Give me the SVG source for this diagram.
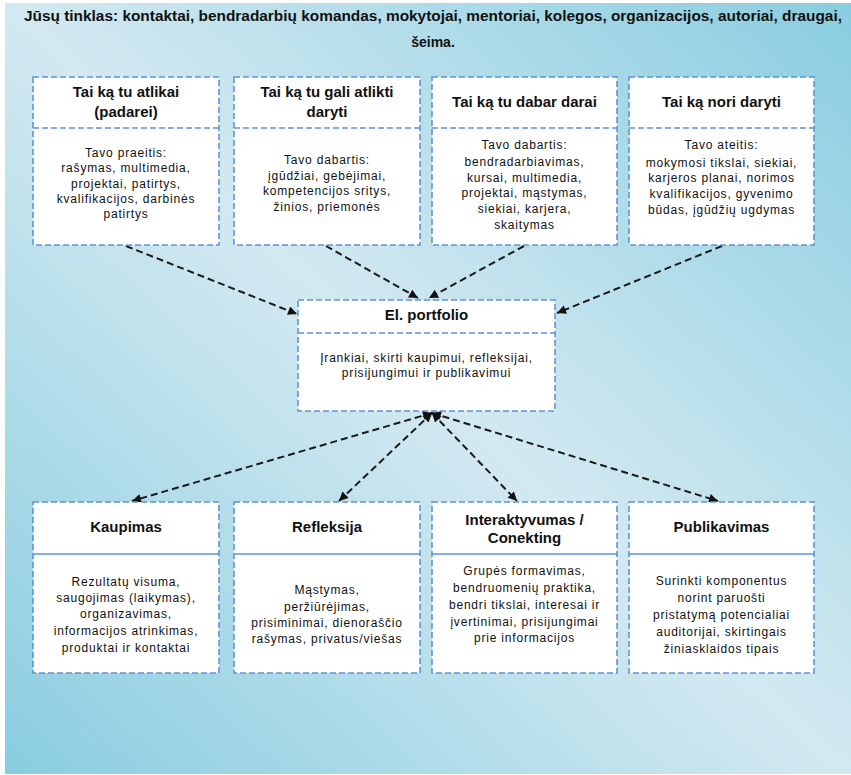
<svg xmlns="http://www.w3.org/2000/svg" width="851" height="775" viewBox="0 0 851 775">
<defs>
<linearGradient id="bg" x1="0" y1="1" x2="1" y2="0">
<stop offset="0" stop-color="#89cde0"/>
<stop offset="0.5" stop-color="#d3e9f1"/>
<stop offset="1" stop-color="#89cde0"/>
</linearGradient>
<marker id="arr" viewBox="0 0 10 10" refX="10" refY="5" markerWidth="11" markerHeight="9" markerUnits="userSpaceOnUse" orient="auto-start-reverse">
<path d="M0,0 L10,5 L0,10 z" fill="#111"/>
</marker>
<style>
.box{fill:#fff;stroke:#5f93d6;stroke-width:1.6;stroke-dasharray:6 3}
.div{stroke:#5f93d6;stroke-width:1.6;stroke-dasharray:6 3;fill:none}
.divs{stroke:#5f93d6;stroke-width:1.6;fill:none}
.hd{font-family:"Liberation Sans",Arial,sans-serif;font-weight:bold;font-size:15px;fill:#111;text-anchor:middle}
.bd{font-family:"Liberation Sans",Arial,sans-serif;font-size:12px;letter-spacing:0.8px;fill:#111;text-anchor:middle}
.ttl{font-family:"Liberation Sans",Arial,sans-serif;font-weight:bold;font-size:14px;fill:#111;text-anchor:middle}
.cn{stroke:#1a1a1a;stroke-width:2;stroke-dasharray:7 4;fill:none;marker-end:url(#arr)}
.cn2{stroke:#1a1a1a;stroke-width:2;stroke-dasharray:7 4;fill:none;marker-end:url(#arr);marker-start:url(#arr)}
</style>
</defs>
<rect x="5" y="3" width="846" height="771" fill="url(#bg)"/>
<g id="title">
<text class="ttl" x="433" y="21" textLength="818" lengthAdjust="spacingAndGlyphs">Jūsų tinklas: kontaktai, bendradarbių komandas, mokytojai, mentoriai, kolegos, organizacijos, autoriai, draugai,</text>
<text class="ttl" x="433" y="47">šeima.</text>
</g>
<g id="connectors">
<line class="cn" x1="126" y1="246" x2="297" y2="314"/>
<line class="cn" x1="326" y1="246" x2="418" y2="298"/>
<line class="cn" x1="524" y1="246" x2="429" y2="298"/>
<line class="cn" x1="722" y1="246" x2="557" y2="313"/>
<line class="cn2" x1="432" y1="413" x2="132" y2="501"/>
<line class="cn2" x1="432" y1="413" x2="339" y2="501"/>
<line class="cn2" x1="432" y1="413" x2="517" y2="501"/>
<line class="cn2" x1="432" y1="413" x2="718" y2="501"/>
</g>
<g id="node-atlikai">
<rect class="box" x="33" y="77" width="186" height="168"/>
<line class="div" x1="33" y1="128" x2="219" y2="128"/>
<text class="hd" x="126" y="97">Tai ką tu atlikai</text>
<text class="hd" x="126" y="117">(padarei)</text>
<text class="bd" x="126" y="157">Tavo praeitis:</text>
<text class="bd" x="126" y="172">rašymas, multimedia,</text>
<text class="bd" x="126" y="188">projektai, patirtys,</text>
<text class="bd" x="126" y="203">kvalifikacijos, darbinės</text>
<text class="bd" x="126" y="218">patirtys</text>
</g>
<g id="node-gali">
<rect class="box" x="234" y="77" width="186" height="168"/>
<line class="div" x1="234" y1="128" x2="420" y2="128"/>
<text class="hd" x="327" y="97">Tai ką tu gali atlikti</text>
<text class="hd" x="327" y="117">daryti</text>
<text class="bd" x="327" y="164">Tavo dabartis:</text>
<text class="bd" x="327" y="180">įgūdžiai, gebėjimai,</text>
<text class="bd" x="327" y="195">kompetencijos sritys,</text>
<text class="bd" x="327" y="211">žinios, priemonės</text>
</g>
<g id="node-dabar">
<rect class="box" x="432" y="77" width="185" height="168"/>
<line class="div" x1="432" y1="128" x2="617" y2="128"/>
<text class="hd" x="524.5" y="107">Tai ką tu dabar darai</text>
<text class="bd" x="524.5" y="149">Tavo dabartis:</text>
<text class="bd" x="524.5" y="166">bendradarbiavimas,</text>
<text class="bd" x="524.5" y="182">kursai, multimedia,</text>
<text class="bd" x="524.5" y="197">projektai, mąstymas,</text>
<text class="bd" x="524.5" y="213">siekiai, karjera,</text>
<text class="bd" x="524.5" y="229">skaitymas</text>
</g>
<g id="node-nori">
<rect class="box" x="629" y="77" width="185" height="168"/>
<line class="div" x1="629" y1="128" x2="814" y2="128"/>
<text class="hd" x="721.5" y="107">Tai ką nori daryti</text>
<text class="bd" x="721.5" y="149">Tavo ateitis:</text>
<text class="bd" x="721.5" y="167">mokymosi tikslai, siekiai,</text>
<text class="bd" x="721.5" y="182">karjeros planai, norimos</text>
<text class="bd" x="721.5" y="198">kvalifikacijos, gyvenimo</text>
<text class="bd" x="721.5" y="214">būdas, įgūdžių ugdymas</text>
</g>
<g id="node-portfolio">
<rect class="box" x="298" y="300" width="257" height="111"/>
<line class="div" x1="298" y1="333" x2="555" y2="333"/>
<text class="hd" x="426.5" y="320">El. portfolio</text>
<text class="bd" x="426.5" y="362">Įrankiai, skirti kaupimui, refleksijai,</text>
<text class="bd" x="426.5" y="377">prisijungimui ir publikavimui</text>
</g>
<g id="node-kaupimas">
<rect class="box" x="33" y="502" width="186" height="171"/>
<line class="divs" x1="33" y1="554" x2="219" y2="554"/>
<text class="hd" x="126" y="532">Kaupimas</text>
<text class="bd" x="126" y="586">Rezultatų visuma,</text>
<text class="bd" x="126" y="602">saugojimas (laikymas),</text>
<text class="bd" x="126" y="618">organizavimas,</text>
<text class="bd" x="126" y="635">informacijos atrinkimas,</text>
<text class="bd" x="126" y="652">produktai ir kontaktai</text>
</g>
<g id="node-refleksija">
<rect class="box" x="234" y="502" width="186" height="171"/>
<line class="divs" x1="234" y1="554" x2="420" y2="554"/>
<text class="hd" x="327" y="532">Refleksija</text>
<text class="bd" x="327" y="594">Mąstymas,</text>
<text class="bd" x="327" y="611">peržiūrėjimas,</text>
<text class="bd" x="327" y="627">prisiminimai, dienoraščio</text>
<text class="bd" x="327" y="643">rašymas, privatus/viešas</text>
</g>
<g id="node-interaktyvumas">
<rect class="box" x="432" y="502" width="185" height="171"/>
<line class="divs" x1="432" y1="554" x2="617" y2="554"/>
<text class="hd" x="524.5" y="525">Interaktyvumas /</text>
<text class="hd" x="524.5" y="543">Conekting</text>
<text class="bd" x="524.5" y="575">Grupės formavimas,</text>
<text class="bd" x="524.5" y="592">bendruomenių praktika,</text>
<text class="bd" x="524.5" y="609">bendri tikslai, interesai ir</text>
<text class="bd" x="524.5" y="626">įvertinimai, prisijungimai</text>
<text class="bd" x="524.5" y="642">prie informacijos</text>
</g>
<g id="node-publikavimas">
<rect class="box" x="629" y="502" width="185" height="171"/>
<line class="divs" x1="629" y1="554" x2="814" y2="554"/>
<text class="hd" x="721.5" y="532">Publikavimas</text>
<text class="bd" x="721.5" y="585">Surinkti komponentus</text>
<text class="bd" x="721.5" y="602">norint paruošti</text>
<text class="bd" x="721.5" y="619">pristatymą potencialiai</text>
<text class="bd" x="721.5" y="636">auditorijai, skirtingais</text>
<text class="bd" x="721.5" y="653">žiniasklaidos tipais</text>
</g>
</svg>
